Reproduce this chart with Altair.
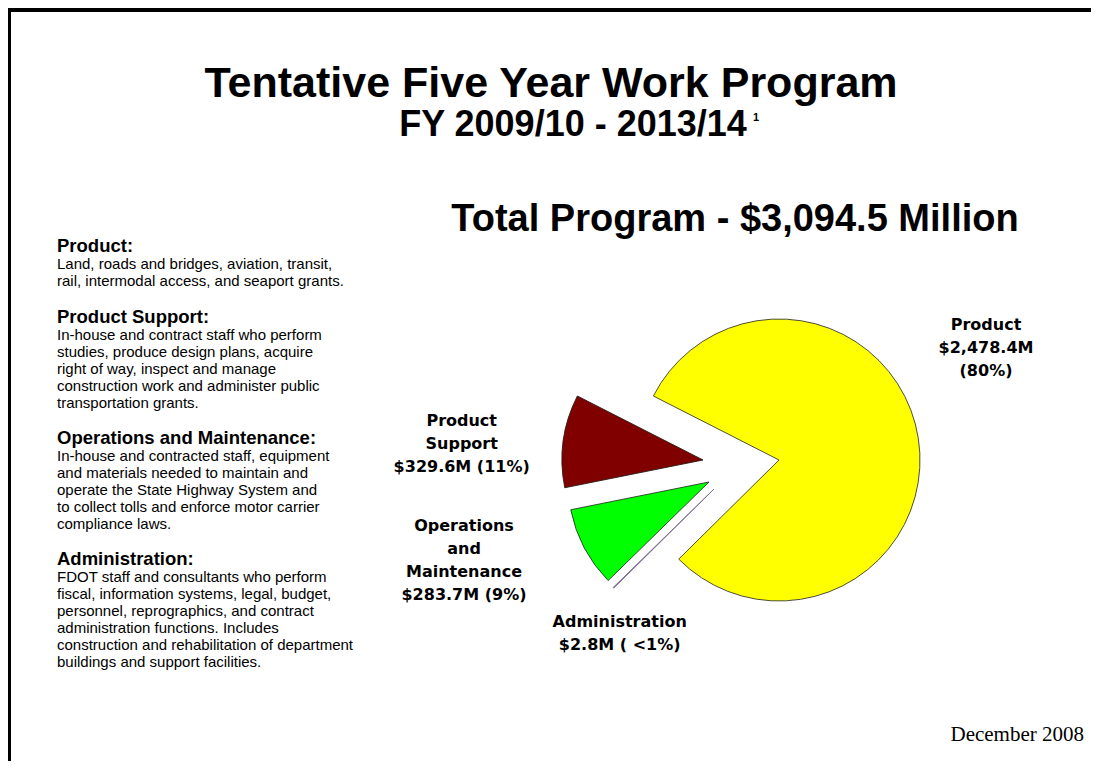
import math
import altair as alt
import pandas as pd

# ---------------- data ----------------
categories = ["Product", "Administration", "Operations and Maintenance", "Product Support"]
amounts = [2478.4, 2.8, 283.7, 329.6]          # $ millions
slice_colors = ["#FFFF00", "#7D6E8F", "#00FF00", "#800000"]
total_program = 3094.5

title_text = "Tentative Five Year Work Program"
subtitle_text = "FY 2009/10 - 2013/14"
footnote_mark = "1"
total_text = "Total Program - $3,094.5 Million"
date_text = "December 2008"

desc_headings = ["Product:", "Product Support:", "Operations and Maintenance:", "Administration:"]
desc_bodies = [
    ["Land, roads and bridges, aviation, transit,",
     "rail, intermodal access, and seaport grants."],
    ["In-house and contract staff who perform",
     "studies, produce design plans, acquire",
     "right of way, inspect and manage",
     "construction work and administer public",
     "transportation grants."],
    ["In-house and contracted staff, equipment",
     "and materials needed to maintain and",
     "operate the State Highway System and",
     "to collect tolls and enforce motor carrier",
     "compliance laws."],
    ["FDOT staff and consultants who perform",
     "fiscal, information systems, legal, budget,",
     "personnel, reprographics, and contract",
     "administration functions.  Includes",
     "construction and rehabilitation of department",
     "buildings and support facilities."],
]
slice_labels = [
    ["Product", "$2,478.4M", "(80%)"],
    ["Administration", "$2.8M ( <1%)"],
    ["Operations", "and", "Maintenance", "$283.7M (9%)"],
    ["Product", "Support", "$329.6M (11%)"],
]

# ---------------- layout / style ----------------
W, H = 1083, 753
SANS = "Liberation Sans"
LABEL_FONT = "DejaVu Sans"
SERIF = "Liberation Serif"

PIE_CX, PIE_CY, PIE_R = 771, 452, 141
START_DEG = 297
EXPLODE = [(0, 0), (-65, 29), (-70, 22), (-76, 0)]
SLICE_STROKE = ["#3a3a2a", "#7D6E8F", "#2a3a2a", "#2a1a1a"]

DESC_X = 49
DESC_HEAD_Y = [243.7, 315, 436, 557]
DESC_LINE_H = 17

LABEL_POS = [(978, 322), (611.7, 618.7), (456, 522.7), (453.7, 417.7)]
LABEL_LINE_H = 23

pie_df = pd.DataFrame({"category": categories, "amount": amounts, "order": list(range(len(categories)))})

one = alt.Data(values=[{"a": 1}])


def text_layer(text, x, y, size, font=SANS, weight="normal", align="left", line_height=None):
    kw = dict(text=text, align=align, baseline="alphabetic", fontSize=size, font=font,
              fontWeight=weight, color="black")
    if line_height:
        kw["lineHeight"] = line_height
    return alt.Chart(one).mark_text(**kw).encode(x=alt.value(x), y=alt.value(y))


a0 = math.radians(START_DEG)
theta_scale = alt.Scale(domain=[0, total_program], range=[a0, a0 + 2 * math.pi])
color_scale = alt.Scale(domain=categories, range=slice_colors)

base = alt.Chart(pie_df).transform_window(
    cum="sum(amount)", sort=[alt.SortField("order")], frame=[None, 0]
).transform_calculate(start="datum.cum - datum.amount")

layers = []
for i, cat in enumerate(categories):
    dx, dy = EXPLODE[i]
    layers.append(
        base.transform_filter(alt.datum.category == cat)
        .mark_arc(radius=PIE_R, stroke=SLICE_STROKE[i], strokeWidth=0.9)
        .encode(
            theta=alt.Theta("start:Q", scale=theta_scale, stack=None),
            theta2="cum:Q",
            color=alt.Color("category:N", scale=color_scale, legend=None),
            x=alt.value(PIE_CX + dx),
            y=alt.value(PIE_CY + dy),
        )
    )

# border (top and left edges of frame)
border_top = alt.Chart(one).mark_rule(color="black", strokeWidth=4).encode(
    x=alt.value(0), x2=alt.value(W), y=alt.value(2))
border_left = alt.Chart(one).mark_rule(color="black", strokeWidth=3).encode(
    x=alt.value(1.5), y=alt.value(0), y2=alt.value(H))
layers += [border_top, border_left]

# titles
layers.append(text_layer(title_text, 543, 89, 43, weight="bold", align="center"))
layers.append(text_layer(subtitle_text, 565, 128, 36, weight="bold", align="center"))
layers.append(text_layer(footnote_mark, 745, 113, 11, weight="bold"))
layers.append(text_layer(total_text, 727, 223, 38, weight="bold", align="center"))
layers.append(text_layer(date_text, 1076, 733, 21, font=SERIF, align="right"))

# descriptions
for head, body, hy in zip(desc_headings, desc_bodies, DESC_HEAD_Y):
    layers.append(text_layer(head, DESC_X, hy, 18.5, weight="bold"))
    layers.append(text_layer(body, DESC_X, hy + 17.3, 15, line_height=DESC_LINE_H))

# slice labels
for lab, (lx, ly) in zip(slice_labels, LABEL_POS):
    layers.append(text_layer(lab, lx, ly, 16, font=LABEL_FONT, weight="bold", align="center",
                             line_height=LABEL_LINE_H))

chart = alt.layer(*layers).properties(
    width=W, height=H, autosize=alt.AutoSizeParams(type="none"), padding=0,
    background="white",
).configure_view(stroke=None)

chart.save("out.html", embed_options={"renderer": "svg", "actions": False})
